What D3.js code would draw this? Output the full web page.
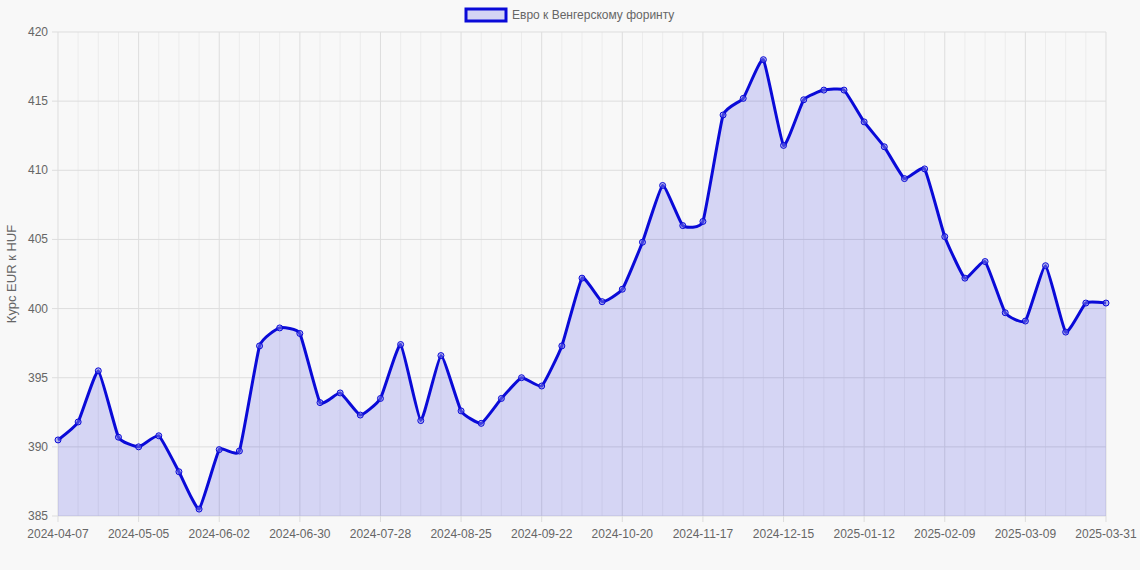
<!DOCTYPE html><html><head><meta charset="utf-8">
<script src="https://cdn.jsdelivr.net/npm/d3@7"></script>
<style>body{margin:0;background:#f8f8f8}text{font-family:"Liberation Sans",Arial,sans-serif}</style></head><body>
<svg id="c" width="1140" height="570"></svg>
<script>
const startDate="2024-04-07";
const lastLabel="2025-03-31";
const values=[390.5,391.8,395.5,390.7,390.0,390.8,388.2,385.5,389.8,389.7,397.3,398.6,398.2,393.2,393.9,392.3,393.5,397.4,391.9,396.6,392.6,391.7,393.5,395.0,394.4,397.3,402.2,400.5,401.4,404.8,408.9,406.0,406.3,414.0,415.2,418.0,411.8,415.1,415.8,415.8,413.5,411.7,409.4,410.1,405.2,402.2,403.4,399.7,399.1,403.1,398.3,400.4,400.4];
const yTicks=[385,390,395,400,405,410,415,420];
const seriesName="Евро к Венгерскому форинту";
const yTitle="Курс EUR к HUF";
const fmt=d3.timeFormat("%Y-%m-%d");
const categories=values.map((v,i)=>i===values.length-1?lastLabel:fmt(d3.timeDay.offset(new Date(startDate+"T12:00:00"),7*i)));
const svg=d3.select("#c");
const L=58,R=1106,T=32,B=516;
const x=d3.scalePoint().domain(categories).range([L,R]);
const y=d3.scaleLinear().domain([385,420]).range([B,T]);
const g=svg.append("g");
categories.forEach((c,i)=>{g.append("line").attr("x1",x(c)).attr("x2",x(c)).attr("y1",T).attr("y2",B+(i%4===0||i===categories.length-1?6:0)).attr("stroke",(i%4===0||i===categories.length-1)?"#ddd":"#ececec");});
yTicks.forEach(t=>{g.append("line").attr("x1",L-6).attr("x2",R).attr("y1",y(t)).attr("y2",y(t)).attr("stroke","#ddd");
 g.append("text").attr("x",L-10).attr("y",y(t)+4).attr("text-anchor","end").attr("font-size",12).attr("fill","#666").text(t);});
categories.forEach((c,i)=>{if(i%4===0||i===categories.length-1)g.append("text").attr("x",x(c)).attr("y",B+22).attr("text-anchor","middle").attr("font-size",12).attr("fill","#666").text(c);});
svg.append("text").attr("transform",`translate(16,${(T+B)/2}) rotate(-90)`).attr("text-anchor","middle").attr("font-size",13).attr("fill","#666").text(yTitle);
const area=d3.area().x((d,i)=>x(categories[i])).y0(B).y1(d=>y(d)).curve(d3.curveCardinal.tension(0.6));
const line=area.lineY1();
svg.append("path").attr("d",area(values)).attr("fill","rgba(0,0,220,0.14)");
svg.append("path").attr("d",line(values)).attr("fill","none").attr("stroke","#0a0ad8").attr("stroke-width",3);
svg.selectAll("circle").data(values).join("circle").attr("cx",(d,i)=>x(categories[i])).attr("cy",d=>y(d)).attr("r",3).attr("fill","rgba(120,120,230,0.5)").attr("stroke","#0a0ad8").attr("stroke-width",1);
svg.append("rect").attr("x",466).attr("y",9).attr("width",40).attr("height",12).attr("fill","rgba(0,0,220,0.14)").attr("stroke","#0a0ad8").attr("stroke-width",3);
svg.append("text").attr("x",512).attr("y",19).attr("font-size",12).attr("fill","#666").text(seriesName);
</script></body></html>
